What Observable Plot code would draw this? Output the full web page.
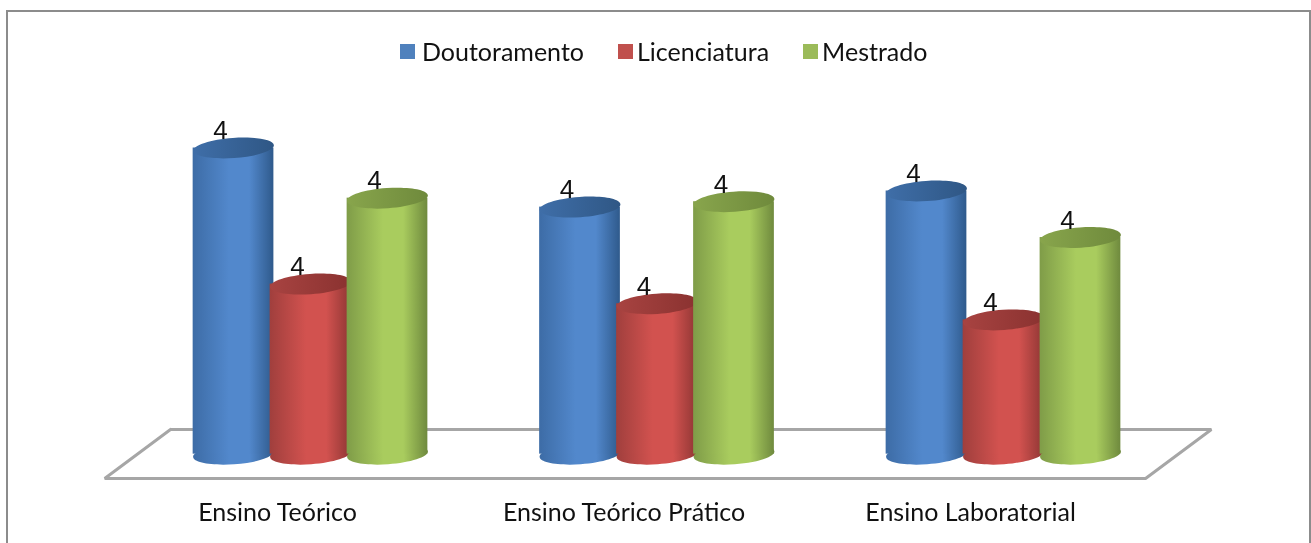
<!DOCTYPE html>
<html lang="pt">
<head>
<meta charset="utf-8">
<script src="https://cdn.jsdelivr.net/npm/d3@7"></script>
<script src="https://cdn.jsdelivr.net/npm/@observablehq/plot@0.6"></script>
<style>
  html, body { margin: 0; background: #fff; overflow: hidden; }
  #page { position: relative; width: 1311px; height: 543px; font-family: Lato, sans-serif; filter: blur(0.4px); }
  #frame { position: absolute; left: 6px; top: 10px; right: 0; bottom: 0; border: 2px solid #8c8c8c; border-bottom: 0; box-sizing: border-box; pointer-events: none; }
  #chart { position: absolute; left: 0; top: 0; }
  #legend { position: absolute; left: 400px; top: 36px; display: flex; font-size: 25px; line-height: 30px; color: #111; }
  #legend span.item { display: flex; align-items: center; margin-right: 34px; }
  #legend i { display: block; width: 15px; height: 15px; margin-right: 7px; }
  #legend .item + .item i { margin-right: 4px; }
</style>
</head>
<body>
<div id="page"><div id="frame"></div><div id="chart"></div><div id="legend"></div></div>
<script>
const categories = ["Ensino Teórico", "Ensino Teórico Prático", "Ensino Laboratorial"];
const series = ["Doutoramento", "Licenciatura", "Mestrado"];
const doutoramento = [4.48, 4.15, 4.24];
const licenciatura = [3.72, 3.61, 3.52];
const mestrado = [4.20, 4.18, 3.98];
const dataLabels = ["4", "4", "4"];
const seriesValues = [doutoramento, licenciatura, mestrado];
const seriesColors = ["#4f81bd", "#c0504d", "#9bbb59"];
// [edge-left, middle, edge-right, top-left, top-right]
const seriesShades = [
  ["#3d6ca6", "#5288cc", "#2f5a8c", "#3f6ea8", "#2f5785"],
  ["#a03f3d", "#d2524f", "#8f3634", "#a84341", "#8a3230"],
  ["#7f9c48", "#a9cc5e", "#6f8a3e", "#88a54c", "#6f8a3c"]
];

const baseValue = 2.77, floorBack = 2.908, floorFront = 2.634, labelValue = 2.44;
const seriesOffset = 0.2222, barWidth = 0.233;
const floorLine = [
  [-0.404, floorBack], [2.60, floorBack], [2.41, floorFront], [-0.594, floorFront], [-0.404, floorBack]
];
const labelShift = -0.095;

const ellipse = {
  draw(ctx, size) {
    const r = Math.sqrt(size / Math.PI), rx = r, ry = r * 0.25, a = -0.07, k = 0.5523;
    const cos = Math.cos(a), sin = Math.sin(a);
    const px = (x, y) => x * cos - y * sin, py = (x, y) => x * sin + y * cos;
    const c = (x1, y1, x2, y2, x, y) => ctx.bezierCurveTo(px(x1, y1), py(x1, y1), px(x2, y2), py(x2, y2), px(x, y), py(x, y));
    ctx.moveTo(px(rx, 0), py(rx, 0));
    c(rx, k * ry, k * rx, ry, 0, ry);
    c(-k * rx, ry, -rx, k * ry, -rx, 0);
    c(-rx, -k * ry, -k * rx, -ry, 0, -ry);
    c(k * rx, -ry, rx, -k * ry, rx, 0);
    ctx.closePath();
  }
};

const defs = () => {
  const d = d3.create("svg:defs");
  seriesShades.forEach((s, i) => {
    const body = d.append("linearGradient").attr("id", `body${i}`);
    [[0, s[0]], [0.45, s[1]], [0.7, s[1]], [1, s[2]]].forEach(([o, c]) =>
      body.append("stop").attr("offset", o).attr("stop-color", c));
    const top = d.append("linearGradient").attr("id", `top${i}`);
    [[0, s[3]], [1, s[4]]].forEach(([o, c]) =>
      top.append("stop").attr("offset", o).attr("stop-color", c));
  });
  return d.node();
};

const rows = seriesValues.flatMap((vals, s) => vals.map((v, c) => ({
  s, c, v, x: c + (s - 1) * seriesOffset, label: dataLabels[c]
})));

const cylinderMarks = [0, 1, 2].flatMap(s => {
  const r = rows.filter(d => d.s === s);
  return [
    Plot.dot(r, {x: "x", y: () => baseValue, r: 40.5, symbol: ellipse, fill: `url(#body${s})`}),
    Plot.rectY(r, {x1: d => d.x - barWidth / 2, x2: d => d.x + barWidth / 2, y1: () => baseValue, y2: "v", fill: `url(#body${s})`}),
    Plot.dot(r, {x: "x", y: "v", r: 40.5, symbol: ellipse, fill: `url(#top${s})`})
  ];
});

const chart = Plot.plot({
  width: 1311, height: 543,
  margin: 0,
  style: {background: "transparent", fontFamily: "Lato, sans-serif"},
  x: {domain: [-0.8947, 2.8889], range: [0, 1311], axis: null},
  y: {domain: [2.271, 5.304], range: [543, 0], axis: null},
  marks: [
    defs,
    Plot.line(floorLine, {x: "0", y: "1", stroke: "#a6a6a6", strokeWidth: 3, strokeLinejoin: "miter"}),
    ...cylinderMarks,
    Plot.text(rows, {x: "x", y: "v", text: "label", dx: -13, dy: -17, fontSize: 26, fontFamily: "'Liberation Sans Narrow', 'Liberation Sans', sans-serif", fill: "#111"}),
    Plot.text(categories, {x: (d, i) => i + labelShift, y: () => labelValue, text: d => d, fontSize: 25, fill: "#111"})
  ]
});
document.getElementById("chart").append(chart);

const legend = d3.select("#legend");
series.forEach((name, i) => {
  const item = legend.append("span").attr("class", "item");
  item.append("i").style("background", seriesColors[i]);
  item.append("span").text(name);
});
</script>
</body>
</html>
